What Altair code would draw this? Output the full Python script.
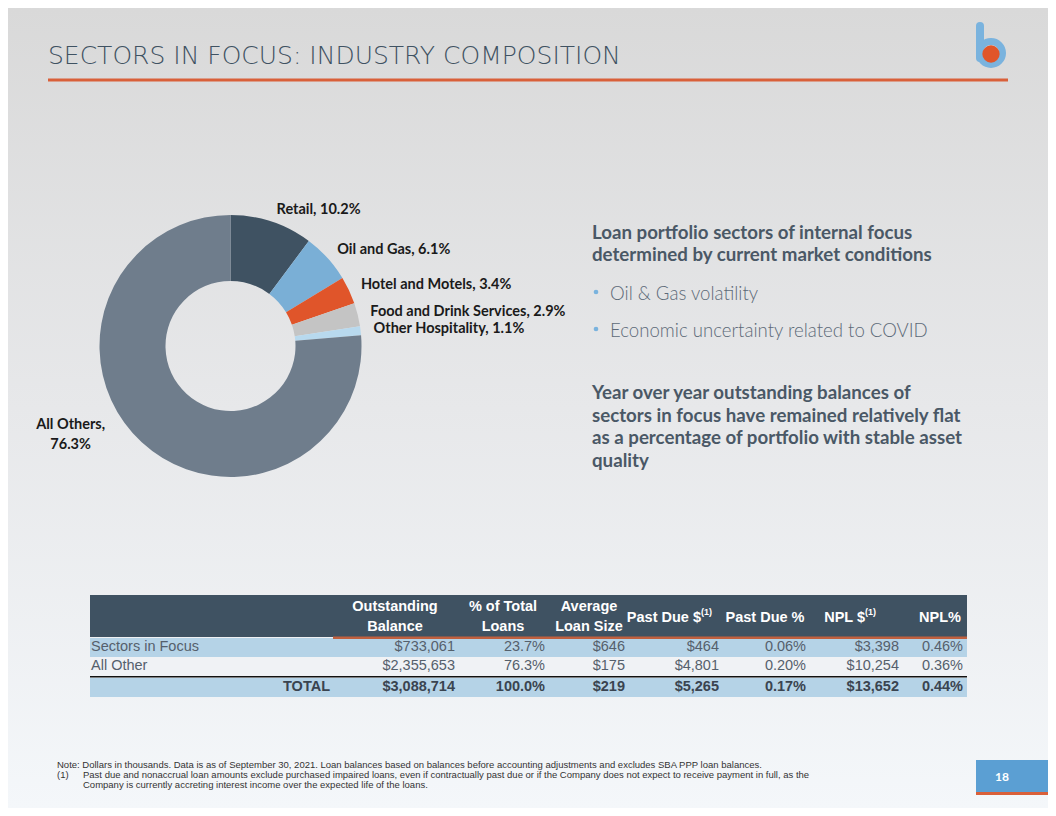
import altair as alt
import pandas as pd

# ---------------- data ----------------
sectors = ["Retail", "Oil and Gas", "Hotel and Motels", "Food and Drink Services",
           "Other Hospitality", "All Others"]
shares = [10.2, 6.1, 3.4, 2.9, 1.1, 76.3]
sector_colors = ["#3f5262", "#7aafd6", "#e0552a", "#c4c4c4", "#b8d9ee", "#6f7d8c"]

table_rows = ["Sectors in Focus", "All Other", "TOTAL"]
outstanding_balance = ["$733,061", "$2,355,653", "$3,088,714"]
pct_total_loans = ["23.7%", "76.3%", "100.0%"]
avg_loan_size = ["$646", "$175", "$219"]
past_due_usd = ["$464", "$4,801", "$5,265"]
past_due_pct = ["0.06%", "0.20%", "0.17%"]
npl_usd = ["$3,398", "$10,254", "$13,652"]
npl_pct = ["0.46%", "0.36%", "0.44%"]
column_headers = ["Outstanding\nBalance", "% of Total\nLoans", "Average\nLoan Size",
                  "Past Due $", "Past Due %", "NPL $", "NPL%"]

title_text = "SECTORS IN FOCUS: INDUSTRY COMPOSITION"
heading1 = ["Loan portfolio sectors of internal focus", "determined by current market conditions"]
bullets = ["Oil & Gas volatility", "Economic uncertainty related to COVID"]
heading2 = ["Year over year outstanding balances of",
            "sectors in focus have remained relatively flat",
            "as a percentage of portfolio with stable asset",
            "quality"]
notes = [
    ("", "Note: Dollars in thousands. Data is as of September 30, 2021. Loan balances based on balances before accounting adjustments and excludes SBA PPP loan balances."),
    ("(1)", "Past due and nonaccrual loan amounts exclude purchased impaired loans, even if contractually past due or if the Company does not expect to receive payment in full, as the"),
    ("", "Company is currently accreting interest income over the expected life of the loans."),
]
page_number = "18"

# ---------------- layout (pixels of the slide) ----------------
DARK = "#3f5262"
ORANGE = "#d9603a"
BLUE = "#7ab3de"
X = alt.X("x:Q", scale=alt.Scale(domain=[8, 1048], nice=False, zero=False), axis=None)
Y = alt.Y("y:Q", scale=alt.Scale(domain=[8, 808], nice=False, zero=False, reverse=True), axis=None)
X2 = alt.X2("x2:Q")
Y2 = alt.Y2("y2:Q")


def rects(rows, **kw):
    df = pd.DataFrame(rows, columns=["x", "x2", "y", "y2", "c"])
    return alt.Chart(df).mark_rect(**kw).encode(
        x=X, x2=X2, y=Y, y2=Y2, color=alt.Color("c:N", scale=None))


def texts(rows, **kw):
    df = pd.DataFrame(rows, columns=["x", "y", "t"])
    return alt.Chart(df).mark_text(**kw).encode(x=X, y=Y, text="t:N")


one = pd.DataFrame({"a": [0]})

background = alt.Chart(one).mark_rect(
    fill=alt.LinearGradient(
        gradient="linear", x1=0, x2=0, y1=0, y2=1,
        stops=[alt.GradientStop(color="#d9d9d9", offset=0),
               alt.GradientStop(color="#e7e8ea", offset=0.5),
               alt.GradientStop(color="#f4f7fa", offset=1)])
).encode(x=alt.value(0), x2=alt.value(1040), y=alt.value(0), y2=alt.value(800))

# title + rule + logo
title = texts([(48, 64, title_text)], font="DejaVu Sans", fontSize=25, fontWeight=200,
              color=DARK, align="left", baseline="alphabetic")
title_rule = rects([(48, 1008, 78.5, 81.5, ORANGE)])
logo_stem = alt.Chart(one).mark_rule(strokeWidth=8, strokeCap="round", color=BLUE).encode(
    x=alt.value(980 - 8), y=alt.value(26 - 8), y2=alt.value(58 - 8))
logo_ring = alt.Chart(one).mark_point(shape="circle", filled=False, size=530, strokeWidth=7,
                                      color=BLUE, opacity=1).encode(
    x=alt.value(991 - 8), y=alt.value(53 - 8))
logo_dot = alt.Chart(one).mark_point(shape="circle", filled=True, size=300,
                                     color="#e0552a", opacity=1).encode(
    x=alt.value(991 - 8), y=alt.value(54 - 8))

# donut
donut_df = pd.DataFrame({"sector": sectors, "share": shares, "order": list(range(len(sectors)))})
donut_df["lab_right"] = [f"{s}, {v}%" if s != "All Others" else "" for s, v in zip(sectors, shares)]
donut_df["lab_left"] = [f"{s},\n{v}%" if s == "All Others" else "" for s, v in zip(sectors, shares)]
CX, CY = 230.5 - 8, 346 - 8
theta = alt.Theta("share:Q", stack=True)
order = alt.Order("order:Q")
donut = alt.Chart(donut_df).mark_arc(innerRadius=65, outerRadius=131).encode(
    theta=theta, order=order,
    color=alt.Color("sector:N", scale=alt.Scale(domain=sectors, range=sector_colors), legend=None),
    x=alt.value(CX), y=alt.value(CY))
donut_lab_r = alt.Chart(donut_df).mark_text(
    radius=143, dx=1, align="left", baseline="middle", font="Lato", fontWeight="bold",
    fontSize=14.5, color="#1a1a1a").encode(
    theta=theta, order=order, text="lab_right:N", x=alt.value(CX), y=alt.value(CY))
donut_lab_l = alt.Chart(donut_df).mark_text(
    radius=140, dx=-65, dy=-24, align="center", baseline="middle", lineBreak="\n",
    lineHeight=20, font="Lato", fontWeight="bold", fontSize=14.5, color="#1a1a1a").encode(
    theta=theta, order=order, text="lab_left:N", x=alt.value(CX), y=alt.value(CY))

# right text block
h1 = texts([(592, 233 + 22 * i, t) for i, t in enumerate(heading1)], font="Lato",
           fontWeight="bold", fontSize=18.7, color="#4a5866", align="left", baseline="middle")
bl = texts([(610, 294 + 37 * i, t) for i, t in enumerate(bullets)], font="Lato",
           fontWeight=300, fontSize=18.6, color="#5d6a78", align="left", baseline="middle")
bdots = alt.Chart(pd.DataFrame({"x": [596, 596], "y": [292, 329]})).mark_point(
    shape="circle", filled=True, size=22, color=BLUE, opacity=1).encode(x=X, y=Y)
h2 = texts([(592, 393 + 22.5 * i, t) for i, t in enumerate(heading2)], font="Lato",
           fontWeight="bold", fontSize=18.7, color="#4a5866", align="left", baseline="middle")

# table
tbl_bg = rects([
    (90, 967, 595, 637, DARK),
    (90, 967, 638, 657, "#b5d3e7"),
    (90, 967, 657, 676, "#f0f2f5"),
    (90, 967, 678, 697, "#b5d3e7"),
    (333, 967, 636.5, 639, "#c0603f"),
    (90, 967, 676, 677.6, "#111111"),
])
col_values = [outstanding_balance, pct_total_loans, avg_loan_size, past_due_usd,
              past_due_pct, npl_usd, npl_pct]
col_right = [455, 545, 625, 719, 806, 899, 963]
row_y = [647, 666, 687]
cells_norm, cells_bold = [], []
for i in range(len(table_rows)):
    for j, vals in enumerate(col_values):
        (cells_bold if i == 2 else cells_norm).append((col_right[j], row_y[i], vals[i]))
tbl_cells = texts(cells_norm, font="Liberation Sans", fontSize=14.5, color="#55606c",
                  align="right", baseline="middle")
tbl_cells_b = texts(cells_bold + [(330, row_y[2], table_rows[2])], font="Liberation Sans",
                    fontSize=14.5, fontWeight="bold", color="#3a4450", align="right",
                    baseline="middle")
tbl_rowlab = texts([(91, row_y[i], table_rows[i]) for i in range(2)], font="Liberation Sans",
                   fontSize=14.5, color="#55606c", align="left", baseline="middle")
head_center = [395, 503, 589, None, 765, None, 940]
hdr_multi = texts([(head_center[j], 607, column_headers[j]) for j in range(7)
                   if head_center[j] and "\n" in column_headers[j]],
                  font="Liberation Sans", fontSize=14.5, fontWeight="bold", color="white",
                  align="center", baseline="middle", lineBreak="\n", lineHeight=20)
hdr_single = texts([(head_center[j], 618, column_headers[j]) for j in range(7)
                    if head_center[j] and "\n" not in column_headers[j]],
                   font="Liberation Sans", fontSize=14.5, fontWeight="bold", color="white",
                   align="center", baseline="middle")
hdr_r = texts([(701, 618, column_headers[3]), (865, 618, column_headers[5])],
              font="Liberation Sans", fontSize=14.5, fontWeight="bold", color="white",
              align="right", baseline="middle")
hdr_sup = texts([(701, 612, "(1)"), (865, 612, "(1)")], font="Liberation Sans", fontSize=9,
                fontWeight="bold", color="white", align="left", baseline="middle")

# footnotes
fn = texts([(57 if i == 0 else 83, 765 + 10 * i, t) for i, (m, t) in enumerate(notes)],
           font="Liberation Sans", fontSize=9.5, color="#333333", align="left", baseline="middle")
fn_mark = texts([(57, 775, notes[1][0])], font="Liberation Sans", fontSize=9.5,
                color="#333333", align="left", baseline="middle")

# page number box
pg = rects([(976, 1048, 760, 792, "#5b9fd3"), (976, 1048, 792, 795, ORANGE)])
pg_txt = texts([(1002, 777, page_number)], font="Lato", fontSize=12, fontWeight="bold",
               color="white", align="center", baseline="middle")

chart = alt.layer(
    background, title, title_rule, logo_stem, logo_ring, logo_dot,
    donut, donut_lab_r, donut_lab_l, h1, bl, bdots, h2,
    tbl_bg, tbl_cells, tbl_cells_b, tbl_rowlab, hdr_multi, hdr_single, hdr_r, hdr_sup,
    fn, fn_mark, pg, pg_txt,
).properties(
    width=1040, height=800, padding=0,
    autosize=alt.AutoSizeParams(type="none"),
).configure_view(stroke=None)

chart.save("out.html", embed_options={"renderer": "svg", "actions": False})
